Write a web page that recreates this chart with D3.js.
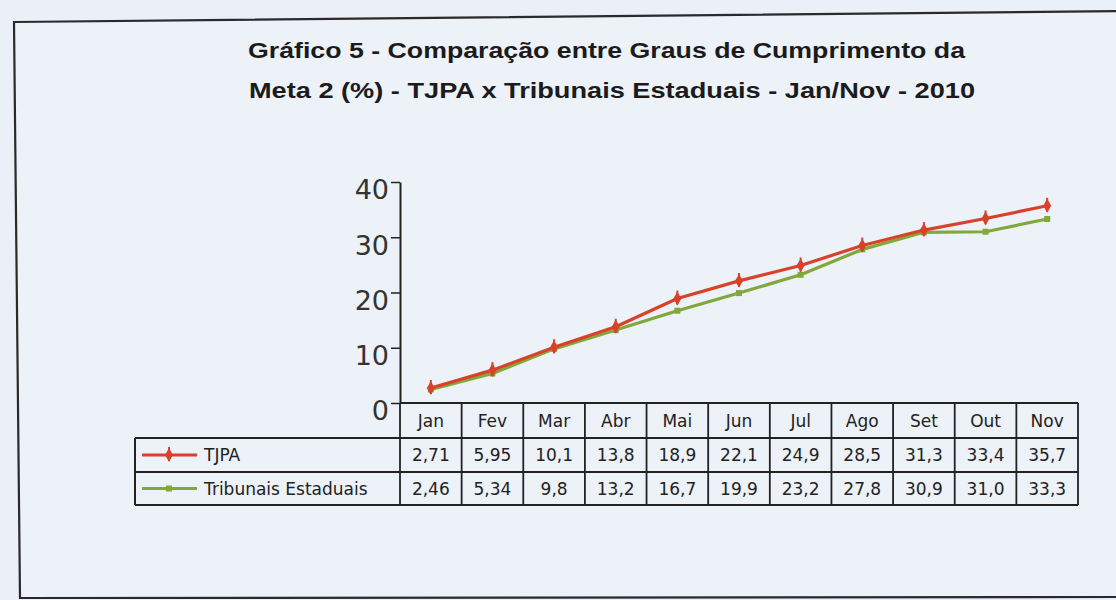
<!DOCTYPE html>
<html>
<head>
<meta charset="utf-8">
<script src="https://cdn.jsdelivr.net/npm/d3@7"></script>
<style>
  html, body { margin: 0; padding: 0; background: #ebeff7; }
  svg { display: block; }
</style>
</head>
<body>
<div id="chart"></div>
<script>
// Chart data
const months = ['Jan', 'Fev', 'Mar', 'Abr', 'Mai', 'Jun', 'Jul', 'Ago', 'Set', 'Out', 'Nov'];
const tjpa = [2.71, 5.95, 10.1, 13.8, 18.9, 22.1, 24.9, 28.5, 31.3, 33.4, 35.7];
const estaduais = [2.46, 5.34, 9.8, 13.2, 16.7, 19.9, 23.2, 27.8, 30.9, 31.0, 33.3];
const yTicks = [0, 10, 20, 30, 40];
const titleLines = [
    'Gráfico 5 -  Comparação entre Graus de Cumprimento da',
    'Meta 2 (%) - TJPA x Tribunais Estaduais - Jan/Nov - 2010'
];

const series = [
    { name: 'TJPA', values: tjpa, color: '#d8412a', marker: 'diamond' },
    { name: 'Tribunais Estaduais', values: estaduais, color: '#80a83a', marker: 'square' }
];

const width = 1116;
const height = 600;
const ink = '#222';
const tableFont = '"DejaVu Sans", sans-serif';

const svg = d3.select('#chart')
    .append('svg')
    .attr('width', width)
    .attr('height', height);

// Scanned frame (slightly skewed)
svg.append('path')
    .attr('d', 'M14,22 L1130,11 L1130,597 L20,598 Z')
    .attr('fill', '#edf1f8')
    .attr('stroke', '#2a2a2a')
    .attr('stroke-width', 2.2);

// Title
svg.selectAll('text.title')
    .data(titleLines)
    .join('text')
    .attr('class', 'title')
    .attr('x', (d, i) => i === 0 ? 248 : 249)
    .attr('y', (d, i) => 58 + i * 40)
    .attr('textLength', (d, i) => i === 0 ? 717 : 726)
    .attr('lengthAdjust', 'spacingAndGlyphs')
    .attr('font-family', '"Liberation Sans Narrow", "Liberation Sans", Arial, sans-serif')
    .attr('font-weight', 'bold')
    .attr('font-size', 22)
    .attr('fill', '#1b1b1b')
    .text(d => d);

// Scales
const x = d3.scaleBand()
    .domain(months)
    .range([400, 1078])
    .padding(0);

const y = d3.scaleLinear()
    .domain([0, 40])
    .range([403, 182]);

// Y axis
const yAxis = svg.append('g')
    .attr('transform', 'translate(400,0)')
    .call(d3.axisLeft(y).tickValues(yTicks).tickSize(9).tickPadding(2).tickSizeOuter(0));

yAxis.select('.domain').attr('stroke', ink).attr('stroke-width', 2);
yAxis.selectAll('.tick line').attr('stroke', ink).attr('stroke-width', 1.5);
yAxis.selectAll('.tick text')
    .attr('font-family', tableFont)
    .attr('font-size', 27)
    .attr('fill', '#333')
    .attr('dy', '0.62em');

// Lines
const line = d3.line()
    .x((d, i) => x(months[i]) + x.bandwidth() / 2)
    .y(d => y(d));

function drawMarker(g, type, color, cx, cy) {
    if (type === 'diamond') {
        g.append('path')
            .attr('transform', `translate(${cx},${cy})`)
            .attr('d', d3.symbol(d3.symbolDiamond, 55)())
            .attr('fill', color);
        g.append('line')
            .attr('x1', cx).attr('x2', cx)
            .attr('y1', cy - 8).attr('y2', cy + 6)
            .attr('stroke', color)
            .attr('stroke-width', 2);
    } else {
        g.append('path')
            .attr('transform', `translate(${cx},${cy})`)
            .attr('d', d3.symbol(d3.symbolSquare, 36)())
            .attr('fill', color);
    }
}

// green first so red sits on top
series.slice().reverse().forEach(s => {
    const g = svg.append('g').attr('class', 'series');
    g.append('path')
        .datum(s.values)
        .attr('d', line)
        .attr('fill', 'none')
        .attr('stroke', s.color)
        .attr('stroke-width', 3.2)
        .attr('stroke-linejoin', 'round');
    s.values.forEach((v, i) => {
        drawMarker(g, s.marker, s.color, x(months[i]) + x.bandwidth() / 2, y(v));
    });
});

// Data table under the plot
const rowTop = [403, 438, 472];
const rowBottom = 505;
const tableLeft = 135;
const tableRight = x.range()[1];

const table = svg.append('g').attr('class', 'data-table');

// header row and body rows outline
table.append('line')
    .attr('x1', x.range()[0]).attr('x2', tableRight)
    .attr('y1', rowTop[0]).attr('y2', rowTop[0])
    .attr('stroke', ink).attr('stroke-width', 2);

[rowTop[1], rowTop[2], rowBottom].forEach(yy => {
    table.append('line')
        .attr('x1', tableLeft).attr('x2', tableRight)
        .attr('y1', yy).attr('y2', yy)
        .attr('stroke', ink).attr('stroke-width', 2);
});

table.append('line')
    .attr('x1', tableLeft).attr('x2', tableLeft)
    .attr('y1', rowTop[1]).attr('y2', rowBottom)
    .attr('stroke', ink).attr('stroke-width', 2);

// column separators
months.forEach(m => {
    table.append('line')
        .attr('x1', x(m)).attr('x2', x(m))
        .attr('y1', rowTop[0]).attr('y2', rowBottom)
        .attr('stroke', ink).attr('stroke-width', 1.8);
});
table.append('line')
    .attr('x1', tableRight).attr('x2', tableRight)
    .attr('y1', rowTop[0]).attr('y2', rowBottom)
    .attr('stroke', ink).attr('stroke-width', 1.8);

// month labels
table.selectAll('text.month')
    .data(months)
    .join('text')
    .attr('class', 'month')
    .attr('x', d => x(d) + x.bandwidth() / 2)
    .attr('y', (rowTop[0] + rowTop[1]) / 2)
    .attr('dy', '0.36em')
    .attr('text-anchor', 'middle')
    .attr('font-family', tableFont)
    .attr('font-size', 17)
    .attr('fill', ink)
    .text(d => d);

const fmt = v => String(v).replace('.', ',');

series.forEach((s, si) => {
    const top = rowTop[si + 1];
    const bottom = si === 0 ? rowTop[2] : rowBottom;
    const mid = (top + bottom) / 2;

    table.selectAll(`text.val-${si}`)
        .data(s.values)
        .join('text')
        .attr('class', `val-${si}`)
        .attr('x', (d, i) => x(months[i]) + x.bandwidth() / 2)
        .attr('y', mid)
        .attr('dy', '0.36em')
        .attr('text-anchor', 'middle')
        .attr('font-family', tableFont)
        .attr('font-size', 17)
        .attr('fill', ink)
        .text(d => (d === 31 ? '31,0' : fmt(d)));

    // legend key
    table.append('line')
        .attr('x1', 142).attr('x2', 197)
        .attr('y1', mid).attr('y2', mid)
        .attr('stroke', s.color)
        .attr('stroke-width', 3.2);
    drawMarker(table, s.marker, s.color, 169, mid);

    table.append('text')
        .attr('x', 204)
        .attr('y', mid)
        .attr('dy', '0.36em')
        .attr('font-family', tableFont)
        .attr('font-size', 17)
        .attr('fill', ink)
        .text(s.name);
});
</script>
</body>
</html>
